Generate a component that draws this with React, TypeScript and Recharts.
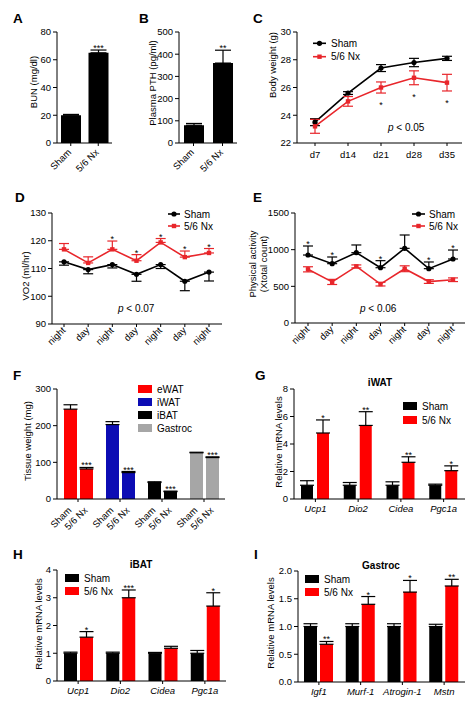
import React from 'react';
import { BarChart, Bar, LineChart, Line, XAxis, YAxis, ErrorBar, LabelList, Cell } from 'recharts';

const FONT = '"Liberation Sans", Arial, Helvetica, sans-serif';
const BAR_RED = '#ff0000';
const LINE_RED = '#e8262b';

// ---------- data ----------
const groups = ['Sham', '5/6 Nx'];
const bunValues = [20, 65];
const bunErrors = [0.6, 2];
const bunStars = ['', '***'];
const bunTicks = [0, 20, 40, 60, 80];

const pthValues = [80, 360];
const pthErrors = [8, 58];
const pthStars = ['', '**'];
const pthTicks = [0, 100, 200, 300, 400, 500];

const bwDays = ['d7', 'd14', 'd21', 'd28', 'd35'];
const bwSham = [23.5, 25.6, 27.4, 27.8, 28.1];
const bwShamErr = [0.25, 0.1, 0.25, 0.3, 0.15];
const bwNx = [23.2, 25.0, 26.0, 26.7, 26.35];
const bwNxErr = [0.5, 0.35, 0.4, 0.5, 0.6];
const bwStars = ['', '', '*', '*', '*'];
const bwTicks = [22, 24, 26, 28, 30];

const periods = ['night', 'day', 'night', 'day', 'night', 'day', 'night'];
const vo2Sham = [112.4, 109.6, 111.4, 107.9, 111.4, 105.4, 108.7];
const vo2ShamErr = [1.2, 1.5, 1.2, 2.5, 1.4, 3.4, 3.2];
const vo2Nx = [116.9, 112.0, 116.9, 112.8, 119.4, 114.1, 115.6];
const vo2NxErr = [2.1, 2.2, 3.0, 2.2, 1.4, 2.2, 1.6];
const vo2Stars = ['', '', '*', '*', '*', '*', '*'];
const vo2Ticks = [90, 100, 110, 120, 130];

const actSham = [927, 809, 959, 754, 1018, 741, 873];
const actShamErr = [123, 91, 105, 96, 182, 91, 122];
const actNx = [732, 560, 772, 530, 740, 565, 590];
const actNxErr = [35, 35, 20, 25, 40, 25, 25];
const actStars = ['*', '*', '', '*', '', '*', '*'];
const actTicks = [0, 500, 1000, 1500];

const tissues = ['eWAT', 'iWAT', 'iBAT', 'Gastroc'];
const tissueColors = ['#ff0000', '#0c0cb4', '#000000', '#a6a6a6'];
const tissueSham = [245, 203, 45, 126];
const tissueShamErr = [12, 8, 2, 1.5];
const tissueNx = [82, 72, 20, 113];
const tissueNxErr = [4, 3, 1.5, 2];
const tissueStars = ['***', '***', '***', '***'];
const tissueTicks = [0, 100, 200, 300];

const iwatGenes = ['Ucp1', 'Dio2', 'Cidea', 'Pgc1a'];
const iwatSham = [1.0, 1.0, 1.0, 1.0];
const iwatShamErr = [0.33, 0.2, 0.25, 0.08];
const iwatNx = [4.8, 5.35, 2.67, 2.06];
const iwatNxErr = [0.95, 1.0, 0.4, 0.35];
const iwatStars = ['*', '**', '**', '*'];
const iwatTicks = [0, 2, 4, 6, 8];

const ibatGenes = ['Ucp1', 'Dio2', 'Cidea', 'Pgc1a'];
const ibatSham = [1.0, 1.0, 1.0, 1.0];
const ibatShamErr = [0.04, 0.04, 0.03, 0.1];
const ibatNx = [1.58, 3.0, 1.18, 2.7];
const ibatNxErr = [0.2, 0.28, 0.07, 0.48];
const ibatStars = ['*', '***', '', '*'];
const ibatTicks = [0, 1, 2, 3, 4];

const gasGenes = ['Igf1', 'Murf-1', 'Atrogin-1', 'Mstn'];
const gasSham = [1.0, 1.0, 1.0, 1.0];
const gasShamErr = [0.05, 0.05, 0.05, 0.04];
const gasNx = [0.68, 1.4, 1.62, 1.73];
const gasNxErr = [0.05, 0.14, 0.21, 0.12];
const gasStars = ['**', '*', '*', '**'];
const gasTicks = [0, 0.5, 1, 1.5, 2];

// ---------- layout ----------
type Rect = { x0: number; y0: number; x1: number; y1: number };
const PA: Rect = { x0: 57, y0: 32, x1: 112, y1: 143 };
const PB: Rect = { x0: 179, y0: 32, x1: 237, y1: 143 };
const PC: Rect = { x0: 297, y0: 32, x1: 462, y1: 143 };
const PD: Rect = { x0: 52, y0: 213, x1: 222, y1: 324 };
const PE: Rect = { x0: 295, y0: 213, x1: 465, y1: 323 };
const PF: Rect = { x0: 57, y0: 389, x1: 225, y1: 499 };
const PG: Rect = { x0: 294, y0: 389, x1: 465, y1: 499 };
const PH: Rect = { x0: 57, y0: 570, x1: 226, y1: 681 };
const PI: Rect = { x0: 298, y0: 571, x1: 465, y1: 682 };

const YW = 40;
const MT = 16;
const MR = 6;

function box(p: Rect, xh: number) {
  return {
    left: p.x0 - YW,
    top: p.y0 - MT,
    width: p.x1 - p.x0 + YW + MR,
    height: p.y1 - p.y0 + MT + xh,
  };
}

const axisStroke = { stroke: '#000', strokeWidth: 1 };

function yAxisProps(domain: number[], ticks: number[], fmt?: (v: number) => string) {
  return {
    type: 'number' as const,
    domain,
    ticks,
    interval: 0 as const,
    width: YW,
    tickSize: 4,
    tickMargin: 2,
    axisLine: axisStroke,
    tickLine: axisStroke,
    tick: { fill: '#000', fontSize: 9.5, fontFamily: FONT },
    tickFormatter: fmt,
    allowDataOverflow: true,
  };
}

function getXY(props: any) {
  const vb = props.viewBox || {};
  return {
    x: props.x ?? vb.x,
    y: props.y ?? vb.y,
    w: props.width ?? vb.width ?? 0,
  };
}

const starFn = (stars: string[], up: number[], down: number[], side: 'above' | 'below', ppu: number) => (props: any) => {
  const i = props.index;
  const s = stars[i];
  if (!s) return null;
  const { x, y, w } = getXY(props);
  const ty = side === 'above' ? y - up[i] * ppu + 1 : y + down[i] * ppu + 15;
  return (
    <text key={`st${i}`} x={x + w / 2} y={ty} textAnchor="middle" fontSize={9} fontFamily={FONT} fill="#000">
      {s}
    </text>
  );
};

const RotTick = (dx: number, dy: number) => (props: any) => {
  const { x, y, payload } = props;
  const ax = x + dx;
  const ay = y + dy;
  return (
    <text x={ax} y={ay} transform={`rotate(-45, ${ax}, ${ay})`} textAnchor="end" fontSize={9.5} fontFamily={FONT} fill="#000">
      {payload.value}
    </text>
  );
};

const PairRotTick = (off: number, dx: number, dy: number) => (props: any) => {
  const { x, y } = props;
  return (
    <g>
      {groups.map((g, k) => {
        const ax = x + (k === 0 ? -off : off) + dx;
        const ay = y + dy;
        return (
          <text key={k} x={ax} y={ay} transform={`rotate(-45, ${ax}, ${ay})`} textAnchor="end" fontSize={9.5} fontFamily={FONT} fill="#000">
            {g}
          </text>
        );
      })}
    </g>
  );
};

const PlainTick = (italic: boolean, dy: number) => (props: any) => {
  const { x, y, payload } = props;
  return (
    <text x={x} y={y + dy} textAnchor="middle" fontSize={9.5} fontFamily={FONT} fontStyle={italic ? 'italic' : 'normal'} fill="#000">
      {payload.value}
    </text>
  );
};

// ---------- panels ----------
function SingleBars({ plot, values, errs, stars, domain, ticks }: any) {
  const ppu = (plot.y1 - plot.y0) / (domain[1] - domain[0]);
  const data = groups.map((g, i) => ({ name: g, v: values[i], e: [0, errs[i]] }));
  const b = box(plot, 40);
  return (
    <div style={{ position: 'absolute', left: b.left, top: b.top }}>
      <BarChart width={b.width} height={b.height} data={data} margin={{ top: MT, right: MR, left: 0, bottom: 0 }} barSize={20}>
        <XAxis dataKey="name" height={40} interval={0} tickSize={3} tickMargin={2} axisLine={axisStroke} tickLine={axisStroke} tick={RotTick(1, 5)} />
        <YAxis {...yAxisProps(domain, ticks)} />
        <Bar dataKey="v" fill="#000" isAnimationActive={false}>
          <ErrorBar dataKey="e" width={8} stroke="#000" strokeWidth={1.2} direction="y" />
          <LabelList content={starFn(stars, errs, errs, 'above', ppu)} />
        </Bar>
      </BarChart>
    </div>
  );
}

function GroupBars({ plot, cats, sham, shamErr, nx, nxErr, stars, domain, ticks, fmt, shamColors, nxColors, barSize, barGap, tick, xh }: any) {
  const ppu = (plot.y1 - plot.y0) / (domain[1] - domain[0]);
  const data = cats.map((c: string, i: number) => ({ name: c, s: sham[i], se: [0, shamErr[i]], n: nx[i], ne: [0, nxErr[i]] }));
  const b = box(plot, xh);
  return (
    <div style={{ position: 'absolute', left: b.left, top: b.top }}>
      <BarChart width={b.width} height={b.height} data={data} margin={{ top: MT, right: MR, left: 0, bottom: 0 }} barSize={barSize} barGap={barGap}>
        <XAxis dataKey="name" height={xh} interval={0} tickSize={3} tickMargin={2} axisLine={axisStroke} tickLine={axisStroke} tick={tick} />
        <YAxis {...yAxisProps(domain, ticks, fmt)} />
        <Bar dataKey="s" isAnimationActive={false}>
          {cats.map((c: string, i: number) => (
            <Cell key={c} fill={shamColors[i]} />
          ))}
          <ErrorBar dataKey="se" width={7} stroke="#000" strokeWidth={1.2} direction="y" />
        </Bar>
        <Bar dataKey="n" isAnimationActive={false}>
          {cats.map((c: string, i: number) => (
            <Cell key={c} fill={nxColors[i]} />
          ))}
          <ErrorBar dataKey="ne" width={7} stroke="#000" strokeWidth={1.2} direction="y" />
          <LabelList content={starFn(stars, nxErr, nxErr, 'above', ppu)} />
        </Bar>
      </BarChart>
    </div>
  );
}

const dotFn = (shape: string, color: string) => (p: any) =>
  shape === 'circle' ? (
    <circle key={`c${p.index}`} cx={p.cx} cy={p.cy} r={2.6} fill={color} stroke="none" />
  ) : (
    <rect key={`r${p.index}`} x={p.cx - 2.2} y={p.cy - 2.2} width={4.4} height={4.4} fill={color} stroke="none" />
  );

function LinePanel({ plot, cats, series, domain, ticks, padL, padR, tick, xh }: any) {
  const ppu = (plot.y1 - plot.y0) / (domain[1] - domain[0]);
  const data = cats.map((c: string, i: number) => {
    const row: any = { name: c };
    series.forEach((s: any, k: number) => {
      row['v' + k] = s.values[i];
      row['e' + k] = [s.errDown[i], s.errUp[i]];
    });
    return row;
  });
  const b = box(plot, xh);
  return (
    <div style={{ position: 'absolute', left: b.left, top: b.top }}>
      <LineChart width={b.width} height={b.height} data={data} margin={{ top: MT, right: MR, left: 0, bottom: 0 }}>
        <XAxis dataKey="name" height={xh} interval={0} padding={{ left: padL, right: padR }} tickSize={3} tickMargin={2} axisLine={axisStroke} tickLine={axisStroke} tick={tick} />
        <YAxis {...yAxisProps(domain, ticks)} />
        {series.map((s: any, k: number) => (
          <Line key={k} dataKey={'v' + k} stroke={s.color} strokeWidth={1.6} dot={dotFn(s.shape, s.color)} activeDot={false} isAnimationActive={false}>
            <ErrorBar dataKey={'e' + k} width={5} stroke={s.color} strokeWidth={1.2} direction="y" />
            {s.stars ? <LabelList content={starFn(s.stars, s.errUp, s.errDown, s.starSide, ppu)} /> : null}
          </Line>
        ))}
      </LineChart>
    </div>
  );
}

// ---------- overlay annotations ----------
const zeros = (n: number) => new Array(n).fill(0);

function YTitle({ x, cy, text }: { x: number; cy: number; text: string }) {
  return (
    <text x={x} y={cy} transform={`rotate(-90, ${x}, ${cy})`} textAnchor="middle" dominantBaseline="central" fontSize={9.5} fontFamily={FONT} fill="#000">
      {text}
    </text>
  );
}

function Letter({ x, y, t }: { x: number; y: number; t: string }) {
  return (
    <text x={x} y={y} fontSize={13.5} fontWeight="bold" fontFamily={FONT} fill="#000">
      {t}
    </text>
  );
}

function LineLegend({ x0, x1, tx, ys }: { x0: number; x1: number; tx: number; ys: number[] }) {
  const cx = (x0 + x1) / 2;
  return (
    <g>
      <line x1={x0} x2={x1} y1={ys[0]} y2={ys[0]} stroke="#000" strokeWidth={1.6} />
      <circle cx={cx} cy={ys[0]} r={2.6} fill="#000" />
      <text x={tx} y={ys[0] + 3.5} fontSize={10} fontFamily={FONT} fill="#000">{groups[0]}</text>
      <line x1={x0} x2={x1} y1={ys[1]} y2={ys[1]} stroke={LINE_RED} strokeWidth={1.6} />
      <rect x={cx - 2.2} y={ys[1] - 2.2} width={4.4} height={4.4} fill={LINE_RED} />
      <text x={tx} y={ys[1] + 3.5} fontSize={10} fontFamily={FONT} fill="#000">{groups[1]}</text>
    </g>
  );
}

function BoxLegend({ x, ys, labels, colors }: { x: number; ys: number[]; labels: string[]; colors: string[] }) {
  return (
    <g>
      {labels.map((l, i) => (
        <g key={l}>
          <rect x={x} y={ys[i] - 4} width={14} height={8} fill={colors[i]} />
          <text x={x + 19} y={ys[i] + 3.5} fontSize={10} fontFamily={FONT} fill="#000">{l}</text>
        </g>
      ))}
    </g>
  );
}

function PText({ x, y, v }: { x: number; y: number; v: string }) {
  return (
    <text x={x} y={y} fontSize={10} fontFamily={FONT} fill="#000">
      <tspan fontStyle="italic">p</tspan>
      {` < ${v}`}
    </text>
  );
}

function Title({ x, y, t }: { x: number; y: number; t: string }) {
  return (
    <text x={x} y={y} textAnchor="middle" fontSize={10} fontWeight="bold" fontFamily={FONT} fill="#000">
      {t}
    </text>
  );
}

function Overlay() {
  return (
    <svg width={476} height={705} style={{ position: 'absolute', left: 0, top: 0, pointerEvents: 'none' }}>
      <Letter x={13} y={22.7} t="A" />
      <Letter x={139} y={22.7} t="B" />
      <Letter x={253} y={22.7} t="C" />
      <Letter x={15} y={202} t="D" />
      <Letter x={253} y={202} t="E" />
      <Letter x={13} y={379.5} t="F" />
      <Letter x={255} y={379.5} t="G" />
      <Letter x={13} y={559} t="H" />
      <Letter x={254} y={559} t="I" />

      <YTitle x={33} cy={82} text="BUN (mg/dl)" />
      <YTitle x={152} cy={83} text="Plasma PTH (pg/ml)" />
      <YTitle x={272} cy={65} text="Body weight (g)" />
      <YTitle x={25} cy={276} text="VO2 (ml/hr)" />
      <YTitle x={252} cy={264} text="Physical activity" />
      <YTitle x={263} cy={264} text="(Xtotal count)" />
      <YTitle x={27} cy={441} text="Tissue weight (mg)" />
      <YTitle x={278} cy={442} text="Relative mRNA levels" />
      <YTitle x={38} cy={624} text="Relative mRNA levels" />
      <YTitle x={270} cy={623} text="Relative mRNA levels" />

      <LineLegend x0={313} x1={326} tx={331} ys={[43.3, 56.7]} />
      <LineLegend x0={168} x1={180} tx={184} ys={[214, 226]} />
      <LineLegend x0={412} x1={425} tx={429} ys={[214, 226]} />

      <PText x={388} y={130.5} v="0.05" />
      <PText x={118} y={312} v="0.07" />
      <PText x={360} y={312} v="0.06" />

      <BoxLegend x={138} ys={[389, 402, 415, 428]} labels={tissues} colors={tissueColors} />
      <BoxLegend x={403} ys={[406, 420]} labels={groups} colors={['#000', BAR_RED]} />
      <BoxLegend x={65} ys={[578, 591]} labels={groups} colors={['#000', BAR_RED]} />
      <BoxLegend x={305} ys={[579, 592]} labels={groups} colors={['#000', BAR_RED]} />

      <Title x={380} y={385.5} t="iWAT" />
      <Title x={141} y={567.5} t="iBAT" />
      <Title x={381} y={568.5} t="Gastroc" />
    </svg>
  );
}

export default function App() {
  const blacks = ['#000', '#000', '#000', '#000'];
  const reds = [BAR_RED, BAR_RED, BAR_RED, BAR_RED];
  return (
    <div style={{ position: 'absolute', left: 0, top: 0, width: 476, height: 705, background: '#fff', fontFamily: FONT, overflow: 'hidden' }}>
      <SingleBars plot={PA} values={bunValues} errs={bunErrors} stars={bunStars} domain={[0, 80]} ticks={bunTicks} />
      <SingleBars plot={PB} values={pthValues} errs={pthErrors} stars={pthStars} domain={[0, 500]} ticks={pthTicks} />
      <LinePanel
        plot={PC}
        cats={bwDays}
        domain={[22, 30]}
        ticks={bwTicks}
        padL={18}
        padR={15}
        xh={22}
        tick={PlainTick(false, 10)}
        series={[
          { values: bwSham, errUp: bwShamErr, errDown: bwShamErr, color: '#000', shape: 'circle' },
          { values: bwNx, errUp: bwNxErr, errDown: bwNxErr, color: LINE_RED, shape: 'square', stars: bwStars, starSide: 'below' },
        ]}
      />
      <LinePanel
        plot={PD}
        cats={periods}
        domain={[90, 130]}
        ticks={vo2Ticks}
        padL={12}
        padR={13}
        xh={40}
        tick={RotTick(2, 2)}
        series={[
          { values: vo2Sham, errUp: zeros(7), errDown: vo2ShamErr, color: '#000', shape: 'circle' },
          { values: vo2Nx, errUp: vo2NxErr, errDown: zeros(7), color: LINE_RED, shape: 'square', stars: vo2Stars, starSide: 'above' },
        ]}
      />
      <LinePanel
        plot={PE}
        cats={periods}
        domain={[0, 1500]}
        ticks={actTicks}
        padL={13}
        padR={12}
        xh={40}
        tick={RotTick(2, 2)}
        series={[
          { values: actSham, errUp: actShamErr, errDown: zeros(7), color: '#000', shape: 'circle', stars: actStars, starSide: 'above' },
          { values: actNx, errUp: actNxErr, errDown: actNxErr, color: LINE_RED, shape: 'square' },
        ]}
      />
      <GroupBars
        plot={PF}
        cats={tissues}
        sham={tissueSham}
        shamErr={tissueShamErr}
        nx={tissueNx}
        nxErr={tissueNxErr}
        stars={tissueStars}
        domain={[0, 300]}
        ticks={tissueTicks}
        shamColors={tissueColors}
        nxColors={tissueColors}
        barSize={13}
        barGap={3}
        xh={40}
        tick={PairRotTick(8, 2, 7)}
      />
      <GroupBars
        plot={PG}
        cats={iwatGenes}
        sham={iwatSham}
        shamErr={iwatShamErr}
        nx={iwatNx}
        nxErr={iwatNxErr}
        stars={iwatStars}
        domain={[0, 8]}
        ticks={iwatTicks}
        shamColors={blacks}
        nxColors={reds}
        barSize={12}
        barGap={4}
        xh={20}
        tick={PlainTick(true, 8)}
      />
      <GroupBars
        plot={PH}
        cats={ibatGenes}
        sham={ibatSham}
        shamErr={ibatShamErr}
        nx={ibatNx}
        nxErr={ibatNxErr}
        stars={ibatStars}
        domain={[0, 4]}
        ticks={ibatTicks}
        shamColors={blacks}
        nxColors={reds}
        barSize={13}
        barGap={3}
        xh={20}
        tick={PlainTick(true, 8)}
      />
      <GroupBars
        plot={PI}
        cats={gasGenes}
        sham={gasSham}
        shamErr={gasShamErr}
        nx={gasNx}
        nxErr={gasNxErr}
        stars={gasStars}
        domain={[0, 2]}
        ticks={gasTicks}
        fmt={(v: number) => v.toFixed(1)}
        shamColors={blacks}
        nxColors={reds}
        barSize={13}
        barGap={3}
        xh={20}
        tick={PlainTick(true, 8)}
      />
      <Overlay />
    </div>
  );
}
